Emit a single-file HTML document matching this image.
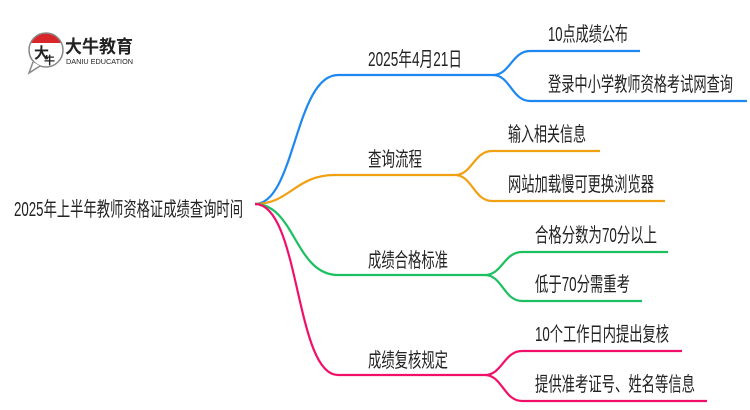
<!DOCTYPE html>
<html><head><meta charset="utf-8"><style>
html,body{margin:0;padding:0;background:#fff;width:750px;height:410px;overflow:hidden}
text{font-family:"Liberation Sans","Noto Sans CJK SC",sans-serif;fill:#222}
</style></head><body>
<svg width="750" height="410" viewBox="0 0 750 410" xmlns="http://www.w3.org/2000/svg">
<path d="M31 43 A17 17 0 0 1 62 43 Z" fill="#d8262b"/>
<circle cx="46" cy="50" r="17" fill="none" stroke="#888" stroke-width="1.5"/>
<path d="M33 62 L29 73 L40 66" fill="#fff" stroke="#888" stroke-width="1.5"/>
<text x="34" y="58" font-size="15" font-weight="bold">大</text>
<text x="44" y="64" font-size="11" font-weight="bold">牛</text>
<text x="65" y="53" font-size="18" font-weight="bold" fill="#222" textLength="68" lengthAdjust="spacingAndGlyphs">大牛教育</text>
<text x="66" y="64" font-size="7" fill="#333" textLength="67" lengthAdjust="spacingAndGlyphs">DANIU EDUCATION</text>
<g fill="none" stroke-width="2.2">
<path d="M255 204 C295 204 295 75 338 75 L493 75" stroke="#1e88f0"/>
<path d="M493 75 C510 75 512 51 530 51 L640 51 M493 75 C510 75 512 101 530 101 L747 101" stroke="#1e88f0"/>
<path d="M255 204 C290 204 295 175 335 175 L455 175" stroke="#f0a010"/>
<path d="M455 175 C472 175 474 151 492 151 L600 151 M455 175 C472 175 474 201 492 201 L665 201" stroke="#f0a010"/>
<path d="M255 204 C295 204 295 275 338 275 L485 275" stroke="#1cc060"/>
<path d="M485 275 C502 275 504 252 522 252 L668 252 M485 275 C502 275 504 301 522 301 L642 301" stroke="#1cc060"/>
<path d="M255 204 C300 204 295 375 338 375 L485 375" stroke="#f0106a"/>
<path d="M485 375 C502 375 504 351 522 351 L682 351 M485 375 C502 375 504 401 522 401 L707 401" stroke="#f0106a"/>
</g>
<g font-size="20">
<text x="14" y="216" textLength="229" lengthAdjust="spacingAndGlyphs">2025年上半年教师资格证成绩查询时间</text>
<text x="368" y="66" textLength="94" lengthAdjust="spacingAndGlyphs">2025年4月21日</text>
<text x="548" y="41" textLength="80" lengthAdjust="spacingAndGlyphs">10点成绩公布</text>
<text x="548" y="91" textLength="185" lengthAdjust="spacingAndGlyphs">登录中小学教师资格考试网查询</text>
<text x="368" y="166" textLength="54" lengthAdjust="spacingAndGlyphs">查询流程</text>
<text x="508" y="141" textLength="78" lengthAdjust="spacingAndGlyphs">输入相关信息</text>
<text x="508" y="191" textLength="146" lengthAdjust="spacingAndGlyphs">网站加载慢可更换浏览器</text>
<text x="368" y="267" textLength="80" lengthAdjust="spacingAndGlyphs">成绩合格标准</text>
<text x="535" y="242" textLength="122" lengthAdjust="spacingAndGlyphs">合格分数为70分以上</text>
<text x="535" y="291" textLength="95" lengthAdjust="spacingAndGlyphs">低于70分需重考</text>
<text x="368" y="367" textLength="80" lengthAdjust="spacingAndGlyphs">成绩复核规定</text>
<text x="535" y="341" textLength="134" lengthAdjust="spacingAndGlyphs">10个工作日内提出复核</text>
<text x="535" y="391" textLength="160" lengthAdjust="spacingAndGlyphs">提供准考证号、姓名等信息</text>
</g>
</svg>
</body></html>
